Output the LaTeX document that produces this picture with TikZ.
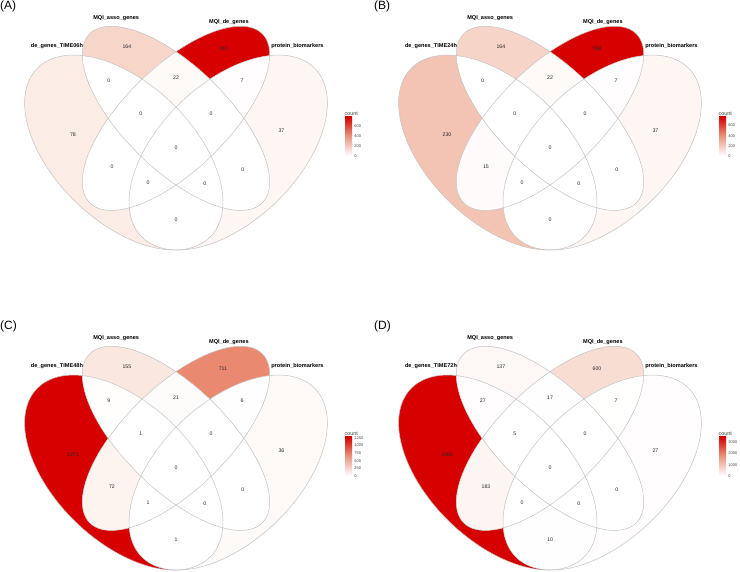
\documentclass[tikz,border=0pt]{standalone}
\usepackage{fontspec}
\setmainfont{Liberation Sans}
\definecolor{vennred}{RGB}{215,0,0}
\definecolor{vennmid}{RGB}{235,152,128}
\definecolor{venngrey}{RGB}{195,195,195}
\definecolor{numtext}{RGB}{40,40,40}
\definecolor{legtext}{RGB}{70,70,70}
\tikzset{
    vennline/.style={draw=venngrey, line width=0.5pt},
    regnum/.style={font=\fontsize{5.2}{6}\selectfont, text=numtext, inner sep=0pt},
    setname/.style={font=\fontsize{5.6}{6.5}\selectfont\bfseries, text=black, inner sep=0pt},
    paneltag/.style={font=\fontsize{12}{14}\selectfont, anchor=west, inner sep=0pt},
    legtitle/.style={font=\fontsize{5.4}{6}\selectfont, text=legtext, anchor=south west, inner sep=0pt},
    legtick/.style={font=\fontsize{4}{5}\selectfont, text=legtext, anchor=west, inner sep=0pt}
}

% one ellipse in unit-square coords; #6=1 anticlockwise, #6=-1 clockwise
\newcommand{\vennell}[6]{plot[domain=0:360, samples=121, variable=\t] ({#1+#3*cos(\t)*cos(#5)-(#6)*#4*sin(\t)*sin(#5)},{#2+#3*cos(\t)*sin(#5)+(#6)*#4*sin(\t)*cos(#5)})}
\newcommand{\vennA}[1]{\vennell{0.35}{0.47}{0.35}{0.20}{135}{#1}}
\newcommand{\vennB}[1]{\vennell{0.50}{0.57}{0.35}{0.15}{135}{#1}}
\newcommand{\vennC}[1]{\vennell{0.50}{0.57}{0.35}{0.15}{45}{#1}}
\newcommand{\vennD}[1]{\vennell{0.65}{0.47}{0.35}{0.20}{45}{#1}}

% inside (1) or outside (0) of one set
\newcommand{\vennclip}[2]{%
  \ifnum#1=1\relax \clip #2{1};\else \clip (0,0) -- (1,0) -- (1,1) -- (0,1) -- cycle #2{-1};\fi}
\newcommand{\vennregion}[4]{%
  \begin{scope}
    \vennclip{#1}{\vennA}\vennclip{#2}{\vennB}\vennclip{#3}{\vennC}\vennclip{#4}{\vennD}
    \fill[regfill] (0,0) rectangle (1,1);
  \end{scope}}

% white -> red fill for count #1 of maximum #2
\newcommand{\vennshade}[2]{%
  \pgfmathsetmacro{\vt}{#1/#2}%
  \pgfmathsetmacro{\vr}{1-0.157*\vt}%
  \pgfmathsetmacro{\vg}{min(1,(1.0001-\vt)^0.75)}%
  \pgfmathsetmacro{\vb}{1-\vt}%
  \definecolor{regfill}{rgb}{\vr,\vg,\vb}}

% region: inA/inB/inC/inD/label x/label y
\def\regionlist{1/0/0/0/0.204/0.521, 0/1/0/0/0.359/0.779, 0/0/1/0/0.635/0.773, 0/0/0/1/0.803/0.533, 1/1/0/0/0.307/0.679, 1/0/1/0/0.316/0.428, 1/0/0/1/0.500/0.273, 0/1/1/0/0.500/0.690, 0/1/0/1/0.692/0.419, 0/0/1/1/0.690/0.679, 1/1/1/0/0.399/0.583, 1/1/0/1/0.583/0.378, 1/0/1/1/0.420/0.381, 0/1/1/1/0.601/0.583, 1/1/1/1/0.500/0.483}

\newcommand{\vennpanel}[4]{%
  \foreach \ia/\ib/\ic/\id/\lx/\ly [count=\i] in \regionlist {%
    \pgfmathtruncatemacro{\num}{{#3}[\i-1]}%
    \ifnum\num>0\relax
      \vennshade{\num}{#2}%
      \vennregion{\ia}{\ib}{\ic}{\id}%
    \fi
  }
  \draw[vennline] \vennA{1} -- cycle;
  \draw[vennline] \vennB{1} -- cycle;
  \draw[vennline] \vennC{1} -- cycle;
  \draw[vennline] \vennD{1} -- cycle;
  \foreach \ia/\ib/\ic/\id/\lx/\ly [count=\i] in \regionlist {%
    \pgfmathtruncatemacro{\num}{{#3}[\i-1]}%
    \node[regnum] (#1\i) at (\lx,\ly) {\num};
  }
  \node[setname] (#1-de) at (0.158,0.781) {#4};
  \node[setname] (#1-asso) at (0.328,0.864) {MQI\_asso\_genes};
  \node[setname] (#1-mqide) at (0.652,0.852) {MQI\_de\_genes};
  \node[setname] (#1-prot) at (0.849,0.781) {protein\_biomarkers};
}

\newcommand{\vennlegend}[3]{%
  \node[legtitle] (#1-count) at (0.984,0.578) {count};
  \shade[bottom color=white, top color=vennred, middle color=vennmid] (0.986,0.460) rectangle (1.006,0.574);
  \foreach \tk in {#3} {%
    \pgfmathsetmacro{\vy}{0.460+0.114*\tk/#2}%
    \node[legtick] (#1-tick\tk) at (1.012,\vy) {\tk};
  }}

\begin{document}
\begin{tikzpicture}[x=1pt, y=1pt]
    \useasboundingbox (0,0) rectangle (740,572);
    \fill[white] (0,0) rectangle (740,572);

    % (A) 06h
    \begin{scope}[shift={(2,258.7)}, x={(348pt,0pt)}, y={(0pt,342pt)}]
        \vennpanel{a}{783}{78,164,783,37,0,0,0,22,0,7,0,0,0,0,0}{de\_genes\_TIME06h}
        \vennlegend{a}{783}{0,200,400,600}
        \node[paneltag] (a-tag) at (-0.006,0.896) {(A)};
    \end{scope}

    % (B) 24h
    \begin{scope}[shift={(376,258.7)}, x={(348pt,0pt)}, y={(0pt,342pt)}]
        \vennpanel{b}{768}{230,164,768,37,0,15,0,22,0,7,0,0,0,0,0}{de\_genes\_TIME24h}
        \vennlegend{b}{768}{0,200,400,600}
        \node[paneltag] (b-tag) at (-0.006,0.896) {(B)};
    \end{scope}

    % (C) 48h
    \begin{scope}[shift={(2,-61.3)}, x={(348pt,0pt)}, y={(0pt,342pt)}]
        \vennpanel{c}{1271}{1271,155,711,36,9,72,1,21,0,6,1,0,1,0,0}{de\_genes\_TIME48h}
        \vennlegend{c}{1271}{0,250,500,750,1000,1250}
        \node[paneltag] (c-tag) at (-0.006,0.896) {(C)};
    \end{scope}

    % (D) 72h
    \begin{scope}[shift={(376,-61.3)}, x={(348pt,0pt)}, y={(0pt,342pt)}]
        \vennpanel{d}{3465}{3465,137,600,27,27,183,10,17,0,7,5,0,0,0,0}{de\_genes\_TIME72h}
        \vennlegend{d}{3465}{0,1000,2000,3000}
        \node[paneltag] (d-tag) at (-0.006,0.896) {(D)};
    \end{scope}
\end{tikzpicture}
\end{document}
